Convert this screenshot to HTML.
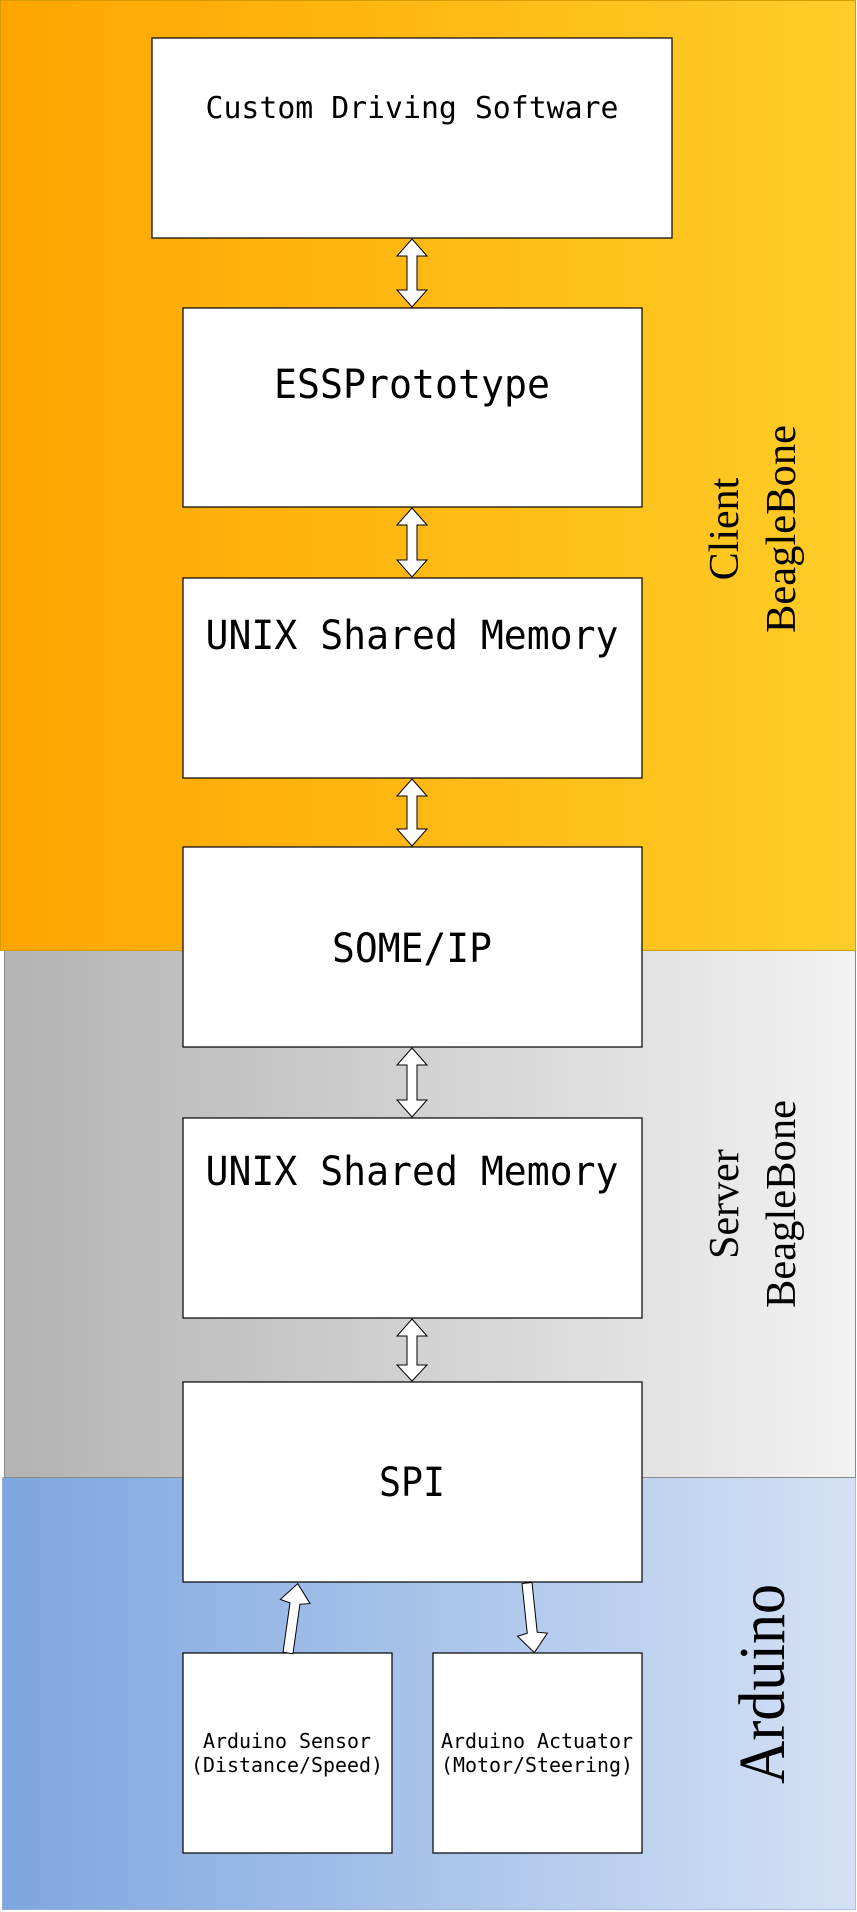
<!DOCTYPE html>
<html><head><meta charset="utf-8"><style>html,body{margin:0;padding:0;background:#fff}svg{display:block}</style></head>
<body>
<svg width="857" height="1912" viewBox="0 0 857 1912" xmlns="http://www.w3.org/2000/svg">
<defs>
<linearGradient id="go" x1="0" x2="1" y1="0" y2="0"><stop offset="0" stop-color="#ffa500"/><stop offset="1" stop-color="#ffcd28"/></linearGradient>
<linearGradient id="gg" x1="0" x2="1" y1="0" y2="0"><stop offset="0" stop-color="#b3b3b3"/><stop offset="1" stop-color="#f2f2f2"/></linearGradient>
<linearGradient id="gb" x1="0" x2="1" y1="0" y2="0"><stop offset="0" stop-color="#7ea6e0"/><stop offset="1" stop-color="#d4e1f5"/></linearGradient>
</defs>
<rect x="2.5" y="1477.5" width="853" height="432" fill="url(#gb)" stroke="#6c8ebf" stroke-opacity="0.5"/>
<rect x="4.5" y="950.5" width="851" height="527" fill="url(#gg)" stroke="#888"/>
<rect x="0.5" y="0.5" width="855" height="950" fill="url(#go)" stroke="#d79b00"/>

<g fill="#fff" stroke="#000" stroke-width="1.2">
<rect x="152" y="38" width="520" height="200"/>
<rect x="183" y="308" width="459" height="199"/>
<rect x="183" y="578" width="459" height="200"/>
<rect x="183" y="847" width="459" height="200"/>
<rect x="183" y="1118" width="459" height="200"/>
<rect x="183" y="1382" width="459" height="200"/>
<rect x="183" y="1653" width="209" height="200"/>
<rect x="433" y="1653" width="209" height="200"/>
</g>

<g fill="#fff" stroke="#000" stroke-width="1">
<polygon points="412,239 427,256 417,256 417,290 427,290 412,307 397,290 407,290 407,256 397,256"/>
<polygon points="412,508 427,525 417,525 417,560 427,560 412,577 397,560 407,560 407,525 397,525"/>
<polygon points="412,779 427,796 417,796 417,829 427,829 412,846 397,829 407,829 407,796 397,796"/>
<polygon points="412,1048 427,1065 417,1065 417,1100 427,1100 412,1117 397,1100 407,1100 407,1065 397,1065"/>
<polygon points="412,1319 427,1336 417,1336 417,1365 427,1365 412,1381 397,1365 407,1365 407,1336 397,1336"/>
<polygon transform="translate(288,1653) rotate(8)" points="-5,0 -5,-50 -15,-52 0,-70 15,-52 5,-50 5,0"/>
<polygon transform="translate(527,1583) rotate(-6)" points="-5,0 -5,50 -15,52 0,70 15,52 5,50 5,0"/>
</g>

<g font-family="'DejaVu Sans Mono','Liberation Mono',monospace" text-anchor="middle" fill="#000">
<text x="412" y="118" font-size="30" textLength="413" lengthAdjust="spacingAndGlyphs">Custom Driving Software</text>
<text x="412" y="398" font-size="40" textLength="276" lengthAdjust="spacingAndGlyphs">ESSPrototype</text>
<text x="412" y="649" font-size="40" textLength="413" lengthAdjust="spacingAndGlyphs">UNIX Shared Memory</text>
<text x="412" y="962" font-size="40" textLength="160" lengthAdjust="spacingAndGlyphs">SOME/IP</text>
<text x="412" y="1185" font-size="40" textLength="413" lengthAdjust="spacingAndGlyphs">UNIX Shared Memory</text>
<text x="412" y="1496" font-size="40" textLength="66" lengthAdjust="spacingAndGlyphs">SPI</text>
<text x="287" y="1748" font-size="20" textLength="168" lengthAdjust="spacingAndGlyphs">Arduino Sensor</text>
<text x="287" y="1772" font-size="20" textLength="192" lengthAdjust="spacingAndGlyphs">(Distance/Speed)</text>
<text x="537" y="1748" font-size="20" textLength="192" lengthAdjust="spacingAndGlyphs">Arduino Actuator</text>
<text x="537" y="1772" font-size="20" textLength="192" lengthAdjust="spacingAndGlyphs">(Motor/Steering)</text>
</g>

<g font-family="'Liberation Serif',serif" text-anchor="middle" fill="#000">
<text transform="translate(738,529) rotate(-90)" font-size="42">Client</text>
<text transform="translate(795,529) rotate(-90)" font-size="42" textLength="208" lengthAdjust="spacingAndGlyphs">BeagleBone</text>
<text transform="translate(738,1204) rotate(-90)" font-size="42">Server</text>
<text transform="translate(795,1204) rotate(-90)" font-size="42" textLength="208" lengthAdjust="spacingAndGlyphs">BeagleBone</text>
<text transform="translate(784,1684) rotate(-90)" font-size="66" textLength="200" lengthAdjust="spacingAndGlyphs">Arduino</text>
</g>
</svg>
</body></html>
